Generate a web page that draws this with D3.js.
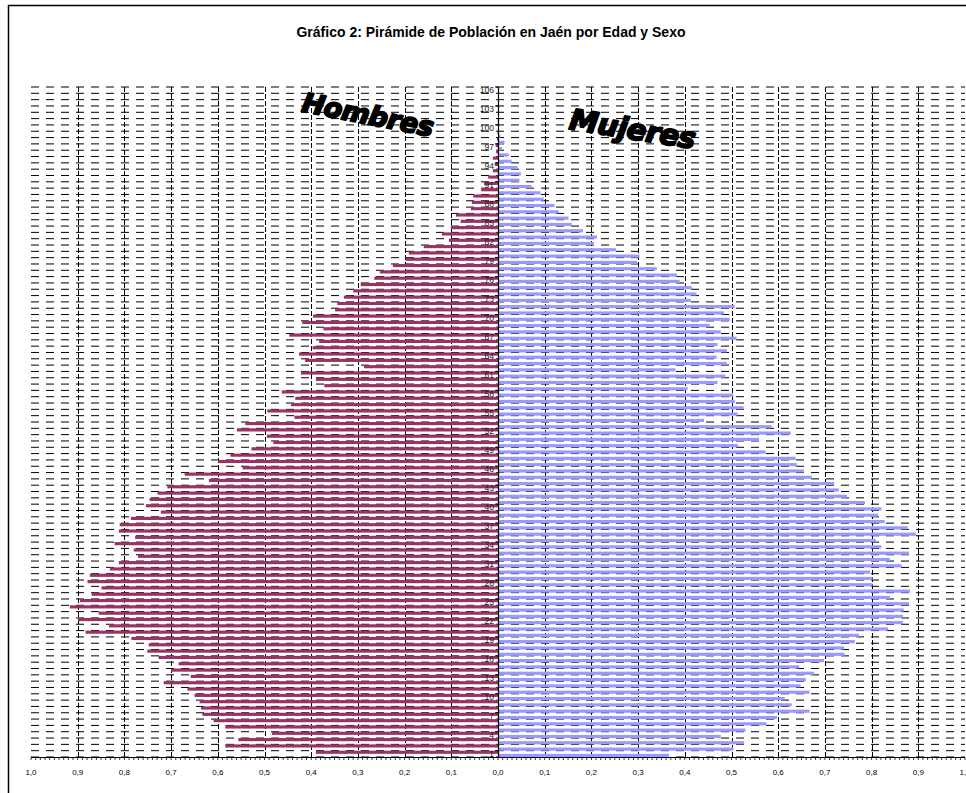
<!DOCTYPE html>
<html>
<head>
<meta charset="utf-8">
<script src="https://cdn.jsdelivr.net/npm/d3@7"></script>
<style>
	body { margin: 0; background: #fff; }
	svg { display: block; }
</style>
</head>
<body>
<script>
// edades 1..106, porcentaje de población (%)
const edades = d3.range(1, 107);

const hombres = [
	0.390, 0.584, 0.556, 0.484, 0.584, 0.609, 0.633, 0.636, 0.639, 0.650,
	0.665, 0.716, 0.658, 0.700, 0.684, 0.727, 0.751, 0.748, 0.785, 0.883,
	0.833, 0.899, 0.855, 0.917, 0.895, 0.870, 0.849, 0.879, 0.874, 0.831,
	0.812, 0.771, 0.780, 0.821, 0.777, 0.812, 0.810, 0.786, 0.722, 0.754,
	0.746, 0.729, 0.708, 0.619, 0.671, 0.547, 0.599, 0.573, 0.528, 0.481,
	0.495, 0.559, 0.541, 0.436, 0.494, 0.443, 0.434, 0.463, 0.372, 0.390,
	0.422, 0.287, 0.413, 0.426, 0.397, 0.383, 0.447, 0.374, 0.419, 0.396,
	0.349, 0.344, 0.330, 0.310, 0.294, 0.265, 0.253, 0.225, 0.198, 0.191,
	0.159, 0.105, 0.120, 0.101, 0.080, 0.090, 0.058, 0.056, 0.053, 0.036,
	0.030, 0.021, 0.011, 0.007, 0.011, 0.004, 0.005, 0.002, 0.001, 0,
	0, 0, 0, 0, 0, 0
];

const mujeres = [
	0.366, 0.504, 0.527, 0.477, 0.530, 0.575, 0.597, 0.667, 0.629, 0.614,
	0.667, 0.648, 0.659, 0.677, 0.645, 0.698, 0.742, 0.741, 0.764, 0.773,
	0.835, 0.867, 0.867, 0.869, 0.880, 0.839, 0.882, 0.802, 0.802, 0.797,
	0.864, 0.839, 0.880, 0.821, 0.809, 0.895, 0.877, 0.828, 0.814, 0.821,
	0.786, 0.747, 0.730, 0.720, 0.672, 0.655, 0.640, 0.637, 0.573, 0.514,
	0.559, 0.627, 0.586, 0.441, 0.513, 0.526, 0.507, 0.504, 0.406, 0.470,
	0.487, 0.380, 0.490, 0.468, 0.490, 0.470, 0.511, 0.477, 0.453, 0.496,
	0.484, 0.507, 0.413, 0.425, 0.415, 0.389, 0.383, 0.340, 0.298, 0.303,
	0.253, 0.205, 0.212, 0.182, 0.158, 0.151, 0.130, 0.121, 0.098, 0.091,
	0.072, 0.046, 0.049, 0.042, 0.029, 0.023, 0.009, 0.014, 0.005, 0.002,
	0.002, 0.001, 0, 0, 0, 0
];

const etiquetasEdad = edades.filter((d, i) => i % 3 === 0);
const ticksValor = d3.range(-10, 11).map(i => i / 10);

const titulo = 'Gráfico 2: Pirámide de Población en Jaén por Edad y Sexo';

const width = 966, height = 793;
const font = '"Liberation Sans", Arial, sans-serif';

let svg = d3.select('body').append('svg')
	.attr('width', width)
	.attr('height', height);

// marco del gráfico
svg.append('rect')
	.attr('x', 8.5).attr('y', 5.5)
	.attr('width', 1000).attr('height', 1000)
	.style('fill', '#fff')
	.style('stroke', '#000')
	.style('stroke-width', 1.5);

svg.append('text')
	.attr('x', 491).attr('y', 37)
	.attr('text-anchor', 'middle')
	.style('font-family', font)
	.style('font-weight', 'bold')
	.style('font-size', '14px')
	.text(titulo);

let x = d3.scaleLinear().domain([-1, 1]).range([31, 965]);
let y = d3.scaleBand().domain(edades).range([757, 87]).padding(0);
let bw = y.bandwidth();

// rejilla horizontal (limites de categorias)
let limites = edades.map(d => y(d)).concat([757]);
svg.append('g').selectAll('line')
	.data(limites)
	.enter().append('line')
	.attr('x1', x(-1)).attr('x2', x(1))
	.attr('y1', d => d).attr('y2', d => d)
	.style('stroke', '#000')
	.style('stroke-width', 1)
	.style('stroke-dasharray', '8,7');

// rejilla vertical
svg.append('g').selectAll('line')
	.data(ticksValor.filter(t => t !== 0 && Math.abs(t) !== 1))
	.enter().append('line')
	.attr('x1', d => Math.round(x(d)) + 0.5).attr('x2', d => Math.round(x(d)) + 0.5)
	.attr('y1', 87).attr('y2', 757)
	.style('stroke', '#000')
	.style('stroke-width', 1)
	.style('stroke-dasharray', '5,2');

// barras
svg.append('g').selectAll('rect')
	.data(edades)
	.enter().append('rect')
	.attr('x', (d, i) => x(-hombres[i]))
	.attr('y', d => y(d))
	.attr('width', (d, i) => x(0) - x(-hombres[i]))
	.attr('height', bw / 2)
	.style('fill', '#993366');

svg.append('g').selectAll('rect')
	.data(edades)
	.enter().append('rect')
	.attr('x', x(0))
	.attr('y', d => y(d) + bw / 2)
	.attr('width', (d, i) => x(mujeres[i]) - x(0))
	.attr('height', bw / 2)
	.style('fill', '#9999FF');

// eje de valores
let ejeX = svg.append('g');
ejeX.append('line')
	.attr('x1', x(-1)).attr('x2', x(1))
	.attr('y1', 757.5).attr('y2', 757.5)
	.style('stroke', '#000');
ejeX.selectAll('line.minor')
	.data(d3.range(-100, 101))
	.enter().append('line')
	.attr('class', 'minor')
	.attr('x1', d => x(d / 100)).attr('x2', d => x(d / 100))
	.attr('y1', 757.5).attr('y2', 760)
	.style('stroke', '#000')
	.style('stroke-width', 0.8);
ejeX.selectAll('text')
	.data(ticksValor)
	.enter().append('text')
	.attr('x', d => x(d))
	.attr('y', 775)
	.attr('text-anchor', 'middle')
	.style('font-family', font)
	.style('font-size', '8px')
	.text(d => d3.format('.1f')(Math.abs(d)).replace('.', ','));

// eje de categorias (centro)
let ejeY = svg.append('g');
ejeY.append('line')
	.attr('x1', 498.5).attr('x2', 498.5)
	.attr('y1', 87).attr('y2', 758)
	.style('stroke', '#000')
	.style('stroke-width', 1.2);
ejeY.selectAll('line.tick')
	.data(etiquetasEdad)
	.enter().append('line')
	.attr('class', 'tick')
	.attr('x1', 495).attr('x2', 498)
	.attr('y1', d => y(d)).attr('y2', d => y(d))
	.style('stroke', '#000');
ejeY.selectAll('text')
	.data(etiquetasEdad)
	.enter().append('text')
	.attr('x', 494)
	.attr('y', d => y(d) + bw / 2 + 3)
	.attr('text-anchor', 'end')
	.style('font-family', font)
	.style('font-size', '8.5px')
	.style('fill', '#222')
	.text(d => d);

// rotulos tipo WordArt
let rotulos = [
	{ texto: 'Hombres', cx: 366, cy: 124, ang: 11, size: 27 },
	{ texto: 'Mujeres', cx: 631, cy: 139, ang: 9, size: 29 }
];
svg.selectAll('text.rotulo')
	.data(rotulos)
	.enter().append('text')
	.attr('class', 'rotulo')
	.attr('text-anchor', 'middle')
	.attr('transform', d => `translate(${d.cx},${d.cy}) rotate(${d.ang})`)
	.style('font-family', '"DejaVu Sans", sans-serif')
	.style('font-weight', 'bold')
	.style('font-style', 'italic')
	.style('font-size', d => d.size + 'px')
	.style('fill', '#000')
	.style('stroke', '#000')
	.style('stroke-width', 1.8)
	.style('stroke-linejoin', 'round')
	.style('letter-spacing', '-0.5px')
	.text(d => d.texto);
</script>
</body>
</html>
